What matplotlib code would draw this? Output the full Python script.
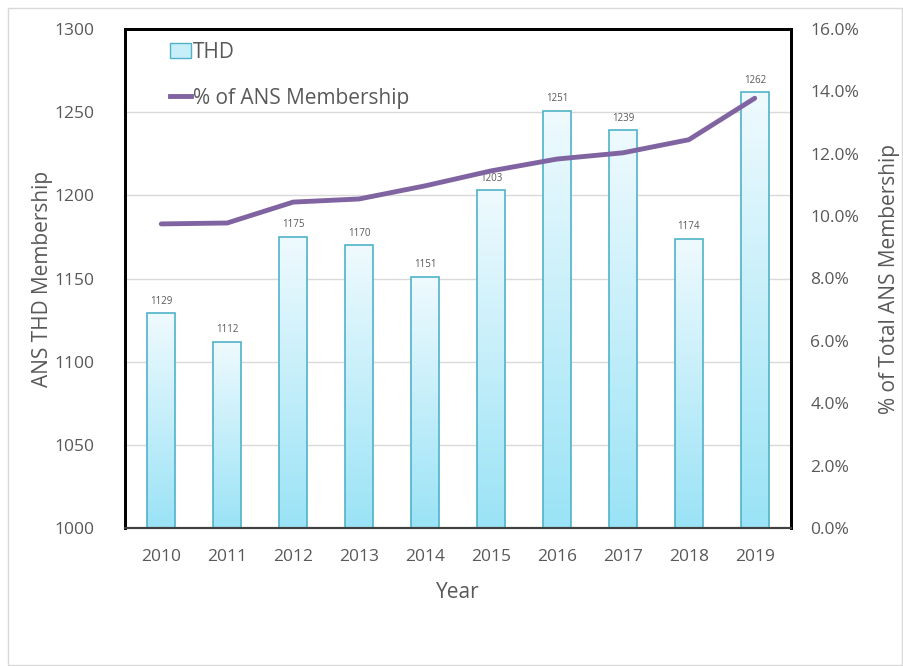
import numpy as np
import matplotlib.pyplot as plt
from matplotlib.colors import LinearSegmentedColormap
from matplotlib.patches import Rectangle
from matplotlib.lines import Line2D
from matplotlib.ticker import FuncFormatter

plt.rcParams['font.family'] = ['Open Sans', 'DejaVu Sans']

years = ['2010', '2011', '2012', '2013', '2014', '2015', '2016', '2017', '2018', '2019']
thd = [1129, 1112, 1175, 1170, 1151, 1203, 1251, 1239, 1174, 1262]
pct = [9.75, 9.78, 10.45, 10.55, 10.97, 11.45, 11.83, 12.03, 12.45, 13.78]

textColor = '#595959'
barEdge = '#4fb3c8'
lineColor = '#8064a2'

fig = plt.figure(figsize=(9.04, 6.66), dpi=100)
fig.patches.append(Rectangle((8 / 904, 1 / 666), 894 / 904, 657 / 666, transform=fig.transFigure,
                             fill=False, edgecolor='#d9d9d9', linewidth=1))
ax = fig.add_axes([125 / 904, 1 - 528 / 666, 666 / 904, 499 / 666])
ax2 = ax.twinx()

x = np.arange(len(years))
bars = ax.bar(x, thd, width=0.42, color='none', edgecolor=barEdge, linewidth=1.2, zorder=3)

# gradient fill, pale at top, stronger cyan at bottom
gradCmap = LinearSegmentedColormap.from_list('grad', ['#9ae3f6', '#effafe'])
gradient = np.linspace(0, 1, 256).reshape(-1, 1)
for bar in bars:
    bx, by = bar.get_x(), bar.get_y()
    bw, bh = bar.get_width(), bar.get_height()
    img = ax.imshow(gradient, cmap=gradCmap, origin='lower', aspect='auto',
                    extent=[bx, bx + bw, 1000, by + bh], zorder=2)
    img.set_clip_path(bar)

for xi, v in zip(x, thd):
    ax.text(xi, v + 4, str(v), ha='center', va='bottom', fontsize=7, color=textColor, zorder=4)

ax.set_xlim(-0.55, len(years) - 0.45)
ax.set_ylim(1000, 1300)
ax.set_yticks(range(1000, 1301, 50))
ax.set_xticks(x)
ax.set_xticklabels(years)
ax.yaxis.grid(True, color='#d9d9d9', linewidth=1, zorder=0)
ax.set_axisbelow(True)
ax.tick_params(axis='both', length=0, labelsize=12.5, colors=textColor)
ax.tick_params(axis='x', pad=15)
ax.tick_params(axis='y', pad=22)
ax.set_xlabel('Year', fontsize=15, color=textColor, labelpad=12)
ax.set_ylabel('ANS THD Membership', fontsize=15, color=textColor, labelpad=1)

ax2.plot(x, pct, color=lineColor, linewidth=3.5, solid_capstyle='round', zorder=5)
ax2.set_ylim(0, 16)
ax2.set_yticks(range(0, 17, 2))
ax2.yaxis.set_major_formatter(FuncFormatter(lambda v, p: f'{v:.1f}%'))
ax2.tick_params(axis='y', length=0, labelsize=12.5, colors=textColor, pad=14)
ax2.set_ylabel('% of Total ANS Membership', fontsize=15, color=textColor, labelpad=14)

for a in (ax, ax2):
    for side in ('left', 'top', 'right'):
        a.spines[side].set_color('black')
        a.spines[side].set_linewidth(2)
    a.spines['bottom'].set_color('#404040')
    a.spines['bottom'].set_linewidth(1.5)

# legend
handles = [Rectangle((0, 0), 1, 1, facecolor='#c8eef9', edgecolor=barEdge),
           Line2D([0], [0], color=lineColor, linewidth=3.5)]
ax2.legend(handles, ['THD', '% of ANS Membership'], loc='upper left', bbox_to_anchor=(0.04, 1.012),
           frameon=False, fontsize=15, labelcolor=textColor, handlelength=1.0,
           handletextpad=0.1, labelspacing=1.2)

fig.savefig('out.png', dpi=100)
